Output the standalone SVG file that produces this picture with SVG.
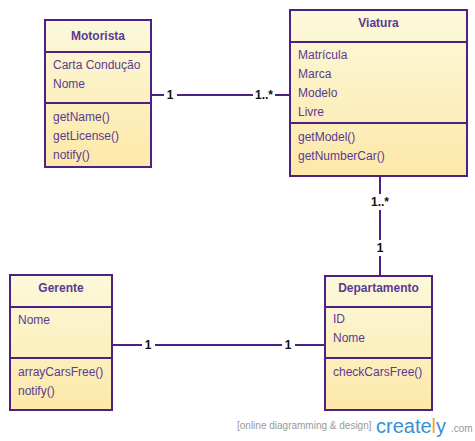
<svg xmlns="http://www.w3.org/2000/svg" width="475" height="441" viewBox="0 0 475 441">
<defs>
<linearGradient id="g" x1="0" y1="0" x2="0" y2="1">
<stop offset="0" stop-color="#fbf9dc"/>
<stop offset="1" stop-color="#fde8a8"/>
</linearGradient>
<style>
.box{fill:url(#g);stroke:#4c2084;stroke-width:2}
.div{stroke:#4c2084;stroke-width:2}
.hd{font-family:"Liberation Sans",Arial,sans-serif;font-size:12px;font-weight:bold;fill:#5a3a92;text-anchor:middle}
.t{font-family:"Liberation Sans",Arial,sans-serif;font-size:12px;fill:#5a3a92}
.ln{stroke:#4c2084;stroke-width:2;fill:none}
.lb{font-family:"Liberation Sans",Arial,sans-serif;font-size:12px;font-weight:bold;fill:#111;text-anchor:middle}
.bg{fill:#fff}
</style>
</defs>
<rect width="475" height="441" fill="#fff"/>
<g id="connectors">
<line class="ln" x1="151" y1="95" x2="290" y2="95"/>
<line class="ln" x1="380" y1="176" x2="380" y2="276"/>
<line class="ln" x1="112" y1="345" x2="325" y2="345"/>
<rect class="bg" x="164" y="87" width="13" height="16"/>
<text class="lb" x="170" y="99">1</text>
<rect class="bg" x="253" y="87" width="22" height="16"/>
<text class="lb" x="264" y="99">1..*</text>
<rect class="bg" x="368" y="194" width="24" height="16"/>
<text class="lb" x="380" y="206">1..*</text>
<rect class="bg" x="372" y="240" width="16" height="16"/>
<text class="lb" x="380" y="252">1</text>
<rect class="bg" x="142" y="337" width="13" height="16"/>
<text class="lb" x="148" y="349">1</text>
<rect class="bg" x="282" y="337" width="13" height="16"/>
<text class="lb" x="288" y="349">1</text>
</g>
<g id="motorista">
<rect class="box" x="45" y="20" width="106" height="147"/>
<line class="div" x1="45" y1="52" x2="151" y2="52"/>
<line class="div" x1="45" y1="103" x2="151" y2="103"/>
<text class="hd" x="98" y="40">Motorista</text>
<text class="t" x="53" y="69">Carta Condução</text>
<text class="t" x="53" y="88">Nome</text>
<text class="t" x="53" y="121">getName()</text>
<text class="t" x="53" y="140">getLicense()</text>
<text class="t" x="53" y="159">notify()</text>
</g>
<g id="viatura">
<rect class="box" x="290" y="10" width="177" height="166"/>
<line class="div" x1="290" y1="42" x2="467" y2="42"/>
<line class="div" x1="290" y1="123" x2="467" y2="123"/>
<text class="hd" x="378.5" y="27">Viatura</text>
<text class="t" x="298" y="59">Matrícula</text>
<text class="t" x="298" y="78">Marca</text>
<text class="t" x="298" y="97">Modelo</text>
<text class="t" x="298" y="116">Livre</text>
<text class="t" x="298" y="141">getModel()</text>
<text class="t" x="298" y="160">getNumberCar()</text>
</g>
<g id="gerente">
<rect class="box" x="10" y="275" width="102" height="135"/>
<line class="div" x1="10" y1="307" x2="112" y2="307"/>
<line class="div" x1="10" y1="358" x2="112" y2="358"/>
<text class="hd" x="61" y="292">Gerente</text>
<text class="t" x="18" y="324">Nome</text>
<text class="t" x="18" y="376">arrayCarsFree()</text>
<text class="t" x="18" y="395">notify()</text>
</g>
<g id="departamento">
<rect class="box" x="325" y="276" width="107" height="134"/>
<line class="div" x1="325" y1="307" x2="432" y2="307"/>
<line class="div" x1="325" y1="358" x2="432" y2="358"/>
<text class="hd" x="378.5" y="292">Departamento</text>
<text class="t" x="333" y="323">ID</text>
<text class="t" x="333" y="342">Nome</text>
<text class="t" x="333" y="376">checkCarsFree()</text>
</g>
<g id="logo">
<text x="237" y="429" font-family="'Liberation Sans',Arial,sans-serif" font-size="10" fill="#999">[online diagramming &amp; design]</text>
<text x="376" y="433" font-family="'Liberation Sans',Arial,sans-serif" font-size="20" fill="#3a8fd0">create<tspan fill="#f5a623">l</tspan>y</text>
<text x="451" y="432" font-family="'Liberation Sans',Arial,sans-serif" font-size="10" fill="#999">.com</text>
</g>
</svg>
